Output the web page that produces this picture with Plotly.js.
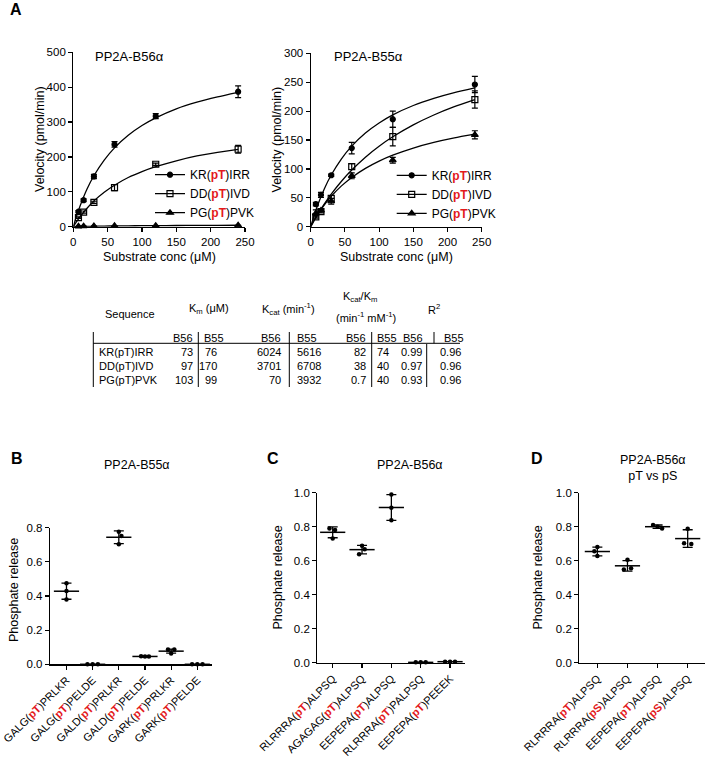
<!DOCTYPE html>
<html><head><meta charset="utf-8">
<script src="https://cdn.plot.ly/plotly-3.0.1.min.js"></script>
<style>html,body{margin:0;padding:0;background:#fff}#chart{width:709px;height:758px}</style>
</head><body><div id="chart"></div>
<script>
// ================= DATA =================
// Panel A: Michaelis-Menten kinetics
const substrateConc = [7.5, 15, 30, 60, 120, 240];
const seqNames = ['KR(pT)IRR', 'DD(pT)IVD', 'PG(pT)PVK'];
const b56_KR = [43, 76, 144, 236, 317, 387];
const b56_KR_err = [3, 4, 6, 8, 7, 17];
const b56_DD = [26, 42, 70, 112, 179, 222];
const b56_DD_err = [2, 3, 3, 9, 3, 11];
const b56_PG = [1, 1.5, 2, 2.5, 3, 4];
const b56_PG_err = [0, 0, 0, 0, 0, 0];
const b55_KR = [39, 55, 89, 136, 186, 246];
const b55_KR_err = [3, 4.5, 2, 10, 14, 14];
const b55_DD = [17, 26, 49, 104, 156, 220];
const b55_DD_err = [2, 2, 5, 5, 16, 15];
const b55_PG = [23, 28, 44, 88, 115, 159];
const b55_PG_err = [6, 2, 5, 5, 5, 7];
// fitted curves
const fitConc = [0, 5, 10, 20, 30, 45, 60, 80, 100, 120, 150, 180, 210, 240];
const fit_b56_KR = [0, 32, 60, 108, 146, 191, 226, 262, 290, 312, 338, 357, 372, 385];
const fit_b56_DD = [0, 15, 29, 53, 74, 99, 119, 141, 158, 172, 189, 203, 213, 222];
const fit_b56_PG = [0, 0.3, 0.5, 0.9, 1.3, 1.8, 2.1, 2.5, 2.9, 3.1, 3.4, 3.7, 3.9, 4.1];
const fit_b55_KR = [0, 19.5, 36.7, 65.8, 89.4, 117.5, 139.4, 162, 179.5, 193.5, 209.7, 222, 232, 240];
const fit_b55_DD = [0, 10.7, 20.9, 39.6, 56.4, 78.7, 98, 120.3, 139.2, 155.5, 176.2, 193.3, 207.7, 220];
const fit_b55_PG = [0, 10.9, 20.7, 38, 52.6, 70.6, 85.3, 101, 113.6, 123.8, 136.1, 145.8, 153.6, 160];

// Kinetic table
const tblSeq = ['KR(pT)IRR', 'DD(pT)IVD', 'PG(pT)PVK'];
const kmB56 = [73, 97, 103];
const kmB55 = [76, 170, 99];
const kcatB56 = [6024, 3701, 70];
const kcatB55 = [5616, 6708, 3932];
const effB56 = [82, 38, 0.7];
const effB55 = [74, 40, 40];
const r2B56 = [0.99, 0.97, 0.93];
const r2B55 = [0.96, 0.96, 0.96];

// Panel B: PP2A-B55a
const catsB = ['GALG(pT)PRLKR', 'GALG(pT)PELDE', 'GALD(pT)PRLKR', 'GALD(pT)PELDE', 'GARK(pT)PRLKR', 'GARK(pT)PELDE'];
const ptsB = [[0.474, 0.43, 0.38], [0, 0, 0], [0.776, 0.752, 0.703], [0.047, 0.045, 0.046], [0.087, 0.086, 0.063], [0, 0, 0]];
const meanB = [0.428, 0, 0.744, 0.046, 0.077, 0];
const sdB = [0.047, 0, 0.037, 0.002, 0.012, 0];

// Panel C: PP2A-B56a
const catsC = ['RLRRRA(pT)ALPSQ', 'AGAGAG(pT)ALPSQ', 'EEPEPA(pT)ALPSQ', 'RLRRRA(pT)PALPSQ', 'EEPEPA(pT)PEEEK'];
const ptsC = [[0.79, 0.78, 0.73], [0.688, 0.668, 0.638], [0.99, 0.912, 0.838], [0.002, 0.002, 0.002], [0.006, 0.006, 0.006]];
const meanC = [0.767, 0.665, 0.913, 0.002, 0.006];
const sdC = [0.032, 0.025, 0.076, 0, 0];

// Panel D: PP2A-B56a pT vs pS
const catsD = ['RLRRRA(pT)ALPSQ', 'RLRRRA(pS)ALPSQ', 'EEPEPA(pT)ALPSQ', 'EEPEPA(pS)ALPSQ'];
const ptsD = [[0.68, 0.655, 0.628], [0.606, 0.548, 0.556], [0.81, 0.80, 0.79], [0.788, 0.703, 0.698]];
const meanD = [0.654, 0.570, 0.80, 0.730];
const sdD = [0.026, 0.031, 0.01, 0.052];

// ================= STYLE =================
const FONT = 'Liberation Sans, Arial, Helvetica, sans-serif';
const RED = '#e3191c';
const BLK = '#000';
const W = 709, H = 758;
const PX = x => x / W, PY = y => 1 - y / H;
const fmtSeq = s => s.replace(/\((p[TS])\)/, "(<b><span style='color:" + RED + "'>$1</span></b>)");
const symbols = ['circle', 'square-open', 'triangle-up'];
const msize = [5, 6, 6];
// horizontal scatter offsets for overlapping replicate dots
const jitterB = [[0, 0, 0], [-0.2, 0, 0.2], [0, 0.1, 0], [-0.15, 0, 0.15], [-0.12, 0.12, 0], [-0.2, 0, 0.2]];
const jitterC = [[-0.11, 0.08, 0], [0, 0.09, -0.1], [0, 0, 0], [-0.17, 0, 0.17], [-0.17, 0, 0.17]];
const jitterD = [[0, -0.1, 0], [0, -0.12, 0.12], [-0.15, 0, 0.15], [0, -0.12, 0.12]];

const traces = [];
function kinetic(xa, ya, leg, fits, datas, errs) {
  for (let s = 0; s < 3; s++) {
    const fx = [null].concat(fitConc), fy = [null].concat(fits[s]);
    traces.push({
      x: fx, y: fy, xaxis: xa, yaxis: ya, legend: leg, name: fmtSeq(seqNames[s]),
      type: 'scatter', mode: 'lines+markers', cliponaxis: false, hoverinfo: 'skip',
      line: {color: BLK, width: 1.3, shape: 'spline', smoothing: 0.6},
      marker: {symbol: symbols[s], size: msize[s], color: BLK, line: {color: BLK, width: 1.2}},
      selectedpoints: fitConc.map((_, i) => i + 1),
      selected: {marker: {opacity: 0}}, unselected: {marker: {opacity: 1}}
    });
    traces.push({
      x: substrateConc, y: datas[s], xaxis: xa, yaxis: ya, showlegend: false,
      type: 'scatter', mode: 'markers', cliponaxis: false,
      marker: {symbol: symbols[s], size: msize[s], color: BLK, line: {color: BLK, width: 1.2}},
      error_y: {type: 'data', array: errs[s], visible: true, color: BLK, thickness: 1.2, width: 3}
    });
  }
}
kinetic('x', 'y', 'legend', [fit_b56_KR, fit_b56_DD, fit_b56_PG], [b56_KR, b56_DD, b56_PG], [b56_KR_err, b56_DD_err, b56_PG_err]);
kinetic('x2', 'y2', 'legend2', [fit_b55_KR, fit_b55_DD, fit_b55_PG], [b55_KR, b55_DD, b55_PG], [b55_KR_err, b55_DD_err, b55_PG_err]);

function dotPanel(xa, ya, pts, means, sds, jit) {
  const xs = [], ys = [];
  pts.forEach((arr, i) => arr.forEach((v, j) => { xs.push(i + jit[i][j]); ys.push(v); }));
  traces.push({x: xs, y: ys, xaxis: xa, yaxis: ya, showlegend: false, type: 'scatter', mode: 'markers',
    cliponaxis: false, marker: {symbol: 'circle', size: 4.5, color: BLK}});
  traces.push({x: means.map((_, i) => i), y: means, xaxis: xa, yaxis: ya, showlegend: false, type: 'scatter',
    mode: 'markers', cliponaxis: false,
    marker: {symbol: 'line-ew', size: 18, color: BLK, line: {color: BLK, width: 1.5}},
    error_y: {type: 'data', array: sds, visible: true, color: BLK, thickness: 1.3, width: 5}});
}
dotPanel('x3', 'y3', ptsB, meanB, sdB, jitterB);
dotPanel('x4', 'y4', ptsC, meanC, sdC, jitterC);
dotPanel('x5', 'y5', ptsD, meanD, sdD, jitterD);

const tickFont = {family: FONT, size: 11.5, color: BLK};
const catFont = {family: FONT, size: 11, color: BLK};
function ax(extra) {
  return Object.assign({
    showline: true, linecolor: BLK, linewidth: 1.2, ticks: 'outside', ticklen: 4, tickwidth: 1.2,
    tickcolor: BLK, showgrid: false, zeroline: false, tickfont: tickFont, fixedrange: true
  }, extra);
}

const layout = {
  width: W, height: H, margin: {l: 0, r: 0, t: 0, b: 0},
  paper_bgcolor: '#fff', plot_bgcolor: 'rgba(0,0,0,0)',
  font: {family: FONT, color: BLK},
  showlegend: true,
  xaxis: ax({domain: [PX(73.3), PX(245)], range: [0, 250], dtick: 50, anchor: 'y'}),
  yaxis: ax({domain: [PY(226.7), PY(52.3)], range: [0, 500], dtick: 100, anchor: 'x'}),
  xaxis2: ax({domain: [PX(310.7), PX(481.7)], range: [0, 250], dtick: 50, anchor: 'y2'}),
  yaxis2: ax({domain: [PY(226.7), PY(53.3)], range: [0, 300], dtick: 50, anchor: 'x2'}),
  xaxis3: ax({domain: [PX(50), PX(211.7)], range: [-0.63, 5.55], anchor: 'y3',
    tickvals: catsB.map((_, i) => i), ticktext: catsB.map(fmtSeq), tickangle: -45, tickfont: catFont}),
  yaxis3: ax({domain: [PY(664.3), PY(527.7)], range: [0, 0.8], dtick: 0.2, tickformat: '.1f', anchor: 'x3'}),
  xaxis4: ax({domain: [PX(317.3), PX(465)], range: [-0.525, 4.51], anchor: 'y4',
    tickvals: catsC.map((_, i) => i), ticktext: catsC.map(fmtSeq), tickangle: -45, tickfont: catFont}),
  yaxis4: ax({domain: [PY(662.7), PY(492.7)], range: [0, 1.0], dtick: 0.2, tickformat: '.1f', anchor: 'x4'}),
  xaxis5: ax({domain: [PX(579.3), PX(705)], range: [-0.6, 3.575], anchor: 'y5',
    tickvals: catsD.map((_, i) => i), ticktext: catsD.map(fmtSeq), tickangle: -45, tickfont: catFont}),
  yaxis5: ax({domain: [PY(662.7), PY(492.7)], range: [0, 1.0], dtick: 0.2, tickformat: '.1f', anchor: 'x5'}),
  legend: {x: PX(150), y: PY(193.7), xanchor: 'left', yanchor: 'middle', bgcolor: 'rgba(0,0,0,0)',
    font: {family: FONT, size: 12, color: BLK}, tracegroupgap: 0},
  legend2: {x: PX(391.7), y: PY(194.3), xanchor: 'left', yanchor: 'middle', bgcolor: 'rgba(0,0,0,0)',
    font: {family: FONT, size: 12, color: BLK}, tracegroupgap: 0},
  annotations: [], shapes: []
};

function ann(text, x, y, o) {
  o = o || {};
  layout.annotations.push({
    text: text, x: PX(x), y: PY(y), xref: 'paper', yref: 'paper', showarrow: false,
    xanchor: o.xanchor || 'center', yanchor: o.yanchor || 'middle', align: o.align || 'center',
    textangle: o.angle || 0,
    font: {family: FONT, size: o.size || 11, color: BLK}
  });
}
function line(x0, y0, x1, y1) {
  layout.shapes.push({type: 'line', xref: 'paper', yref: 'paper', x0: PX(x0), y0: PY(y0), x1: PX(x1), y1: PY(y1),
    line: {color: BLK, width: 1}});
}

// Panel letters & titles
ann('<b>A</b>', 16, 10, {size: 16});
ann('<b>B</b>', 16.7, 458, {size: 16});
ann('<b>C</b>', 273, 458, {size: 16});
ann('<b>D</b>', 536.7, 458, {size: 16});
ann('PP2A-B56α', 93.3, 56.7, {xanchor: 'left', size: 13});
ann('PP2A-B55α', 331.7, 56.7, {xanchor: 'left', size: 13});
ann('PP2A-B55α', 136.7, 465, {size: 12.5});
ann('PP2A-B56α', 410, 465, {size: 12.5});
ann('PP2A-B56α<br>pT vs pS', 652.7, 468, {size: 12.5});

// Axis titles
const AT = 12.5;
ann('Substrate conc (μM)', 159, 256.7, {size: AT});
ann('Substrate conc (μM)', 396, 256.7, {size: AT});
ann('Velocity (pmol/min)', 39.5, 139.5, {size: AT, angle: -90});
ann('Velocity (pmol/min)', 276.5, 140, {size: AT, angle: -90});
ann('Phosphate release', 14, 590, {size: AT, angle: -90});
ann('Phosphate release', 277, 577.5, {size: AT, angle: -90});
ann('Phosphate release', 537, 577.5, {size: AT, angle: -90});

// Kinetic table
const TF = 11;
ann('Sequence', 130, 314, {size: TF});
ann('K<sub>m</sub> (μM)', 209, 309, {size: TF});
ann('K<sub>cat</sub> (min<sup>-1</sup>)', 288.3, 309, {size: TF});
ann('K<sub>cat</sub>/K<sub>m</sub>', 360, 297.3, {size: TF});
ann('(min<sup>-1</sup> mM<sup>-1</sup>)', 365.7, 317.3, {size: TF});
ann('R<sup>2</sup>', 434, 309, {size: TF});
const subY = 338, rowY = [351.7, 366, 380];
[195, 283.3, 368.3, 425].forEach(x => ann('B56', x, subY, {xanchor: 'right', size: TF}));
[201.7, 295, 375, 441.7].forEach(x => ann('B55', x, subY, {xanchor: 'left', size: TF}));
const cols = [
  {vals: kmB56, x: 195, a: 'right', f: v => String(v)},
  {vals: kmB55, x: 218.5, a: 'right', f: v => String(v)},
  {vals: kcatB56, x: 283.3, a: 'right', f: v => String(v)},
  {vals: kcatB55, x: 295, a: 'left', f: v => String(v)},
  {vals: effB56, x: 368.3, a: 'right', f: v => String(v)},
  {vals: effB55, x: 375, a: 'left', f: v => String(v)},
  {vals: r2B56, x: 424, a: 'right', f: v => v.toFixed(2)},
  {vals: r2B55, x: 463.3, a: 'right', f: v => v.toFixed(2)}
];
tblSeq.forEach((s, r) => ann(s, 96.7, rowY[r], {xanchor: 'left', size: TF}));
cols.forEach(c => c.vals.forEach((v, r) => ann(c.f(v), c.x, rowY[r], {xanchor: c.a, size: TF})));
line(93.3, 332, 93.3, 387);
line(93.3, 343.3, 460, 343.3);
[198.3, 289.3, 371.7].forEach(x => line(x, 332, x, 387));
line(434, 332, 434, 343.3);
line(426.7, 344, 426.7, 387);

Plotly.newPlot('chart', traces, layout, {staticPlot: true, displayModeBar: false});
</script></body></html>
